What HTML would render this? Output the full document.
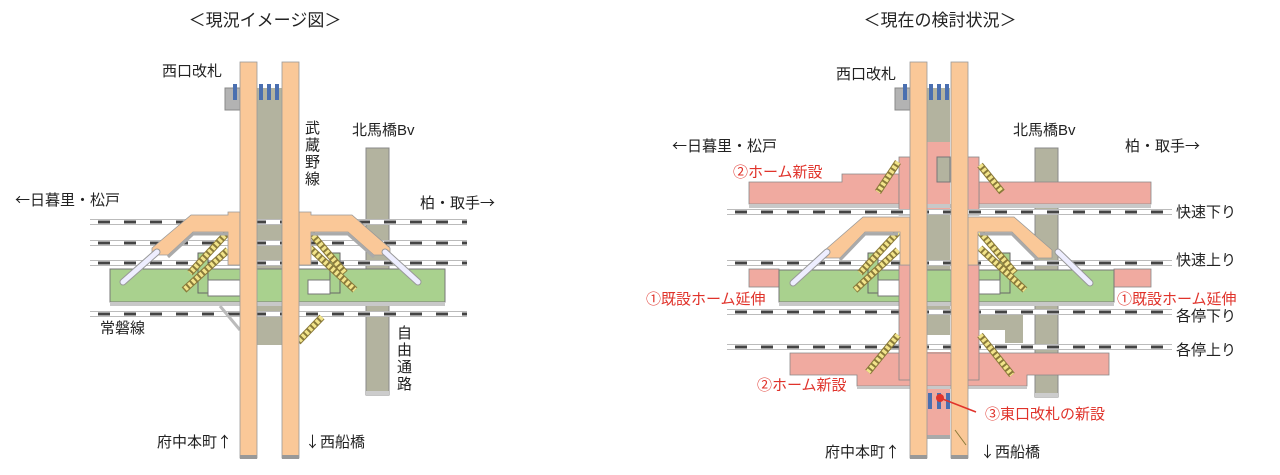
<!DOCTYPE html>
<html><head><meta charset="utf-8"><style>
html,body{margin:0;padding:0;background:#fff;}
svg{display:block;}
text{font-family:"Liberation Sans","Noto Sans CJK JP",sans-serif;fill:#222;}
.r{fill:#e0332b;}
.a{font-family:"Noto Sans CJK JP",sans-serif;}
</style></head><body>
<svg width="1280" height="475" viewBox="0 0 1280 475" xmlns="http://www.w3.org/2000/svg">

<!-- ===== LEFT DIAGRAM ===== -->
<text x="265" y="26" font-size="17" text-anchor="middle">＜現況イメージ図＞</text>
<text x="162" y="76" font-size="15">西口改札</text>
<text x="352" y="135" font-size="15">北馬橋Bv</text>
<text x="15" y="205" font-size="15"><tspan class="a">←</tspan>日暮里・松戸</text>
<text x="420" y="208" font-size="15">柏・取手<tspan class="a">→</tspan></text>
<text x="100" y="333" font-size="15">常磐線</text>
<text x="157" y="447" font-size="15">府中本町<tspan class="a">↑</tspan></text>
<text x="305" y="447" font-size="15"><tspan class="a">↓</tspan>西船橋</text>
<g font-size="15">
<text x="305" y="133">武</text><text x="305" y="150">蔵</text><text x="305" y="167">野</text><text x="305" y="184">線</text>
<text x="397" y="338">自</text><text x="397" y="355">由</text><text x="397" y="372">通</text><text x="397" y="389">路</text>
</g>

<rect x="366" y="148" width="23" height="247" fill="#b3b39f" stroke="#888" stroke-width="1"/>
<rect x="366" y="391" width="23" height="4" fill="#ccc"/>
<rect x="257" y="88" width="25" height="257" fill="#b3b39f"/>
<rect x="225" y="88" width="15" height="22" fill="#b3b3b3" stroke="#888"/>
<g fill="#4a6fb0"><rect x="233" y="84" width="4" height="16"/><rect x="259" y="84" width="4" height="16"/><rect x="267" y="84" width="4" height="16"/><rect x="275" y="84" width="4" height="16"/></g>

<g stroke="#bbb" stroke-width="6"><line x1="90" y1="222" x2="467" y2="222"/><line x1="90" y1="243" x2="467" y2="243"/><line x1="90" y1="263" x2="467" y2="263"/><line x1="90" y1="314" x2="467" y2="314"/></g>
<g stroke="#fff" stroke-width="4"><line x1="90" y1="222" x2="467" y2="222"/><line x1="90" y1="243" x2="467" y2="243"/><line x1="90" y1="263" x2="467" y2="263"/><line x1="90" y1="314" x2="467" y2="314"/></g>
<g stroke="#444" stroke-width="3" stroke-dasharray="12 14"><line x1="98" y1="222" x2="467" y2="222"/><line x1="98" y1="243" x2="467" y2="243"/><line x1="98" y1="263" x2="467" y2="263"/><line x1="98" y1="314" x2="467" y2="314"/></g>

<rect x="110" y="269" width="335" height="33" fill="#a9d18e" stroke="#777"/>
<rect x="110" y="302" width="335" height="4" fill="#c8c8c8"/>
<rect x="198" y="253" width="10" height="40" fill="#a9d18e" stroke="#666"/>
<rect x="330" y="253" width="10" height="40" fill="#a9d18e" stroke="#666"/>
<rect x="208" y="280" width="32" height="16" fill="#fff" stroke="#777"/>
<rect x="308" y="280" width="22" height="14" fill="#fff" stroke="#777"/>
<g stroke="#8a7a3a" stroke-width="7">
<line x1="228" y1="232" x2="190" y2="273"/><line x1="228" y1="250" x2="184" y2="290"/>
<line x1="310" y1="232" x2="345" y2="273"/><line x1="310" y1="248" x2="355" y2="290"/>
<line x1="322" y1="317" x2="298" y2="342"/>
</g>
<g stroke="#f2e48a" stroke-width="5" stroke-dasharray="3 2">
<line x1="228" y1="232" x2="190" y2="273"/><line x1="228" y1="250" x2="184" y2="290"/>
<line x1="310" y1="232" x2="345" y2="273"/><line x1="310" y1="248" x2="355" y2="290"/>
<line x1="322" y1="317" x2="298" y2="342"/>
</g>
<line x1="220" y1="306" x2="240" y2="330" stroke="#bbb" stroke-width="3"/>
<polygon points="240,212 228,212 228,215 191,215 152,248 152,255 168,255 193,232 228,232 228,265 240,265" fill="#fac898" stroke="#999" stroke-width="0.8"/>
<polygon points="299,212 311,212 311,215 352,215 390,248 390,255 374,255 348,232 311,232 311,265 299,265" fill="#fac898" stroke="#999" stroke-width="0.8"/>
<polyline points="168,257 193,234 228,234" fill="none" stroke="#aaa" stroke-width="3"/>
<polyline points="374,257 348,234 311,234" fill="none" stroke="#aaa" stroke-width="3"/>
<line x1="157" y1="252" x2="123" y2="282" stroke="#999" stroke-width="7" stroke-linecap="round"/>
<line x1="157" y1="252" x2="123" y2="282" stroke="#eef" stroke-width="5" stroke-linecap="round"/>
<line x1="385" y1="252" x2="418" y2="282" stroke="#999" stroke-width="7" stroke-linecap="round"/>
<line x1="385" y1="252" x2="418" y2="282" stroke="#eef" stroke-width="5" stroke-linecap="round"/>
<rect x="240" y="62" width="17" height="396" fill="#fac898" stroke="#999" stroke-width="0.8"/>
<rect x="282" y="62" width="17" height="396" fill="#fac898" stroke="#999" stroke-width="0.8"/>
<rect x="240" y="455" width="17" height="4" fill="#999"/><rect x="282" y="455" width="17" height="4" fill="#999"/>

<!-- ===== RIGHT DIAGRAM ===== -->
<text x="940" y="26" font-size="17" text-anchor="middle">＜現在の検討状況＞</text>
<text x="836" y="79" font-size="15">西口改札</text>
<text x="1013" y="135" font-size="15">北馬橋Bv</text>
<text x="672" y="151" font-size="15"><tspan class="a">←</tspan>日暮里・松戸</text>
<text x="1125" y="151" font-size="15">柏・取手<tspan class="a">→</tspan></text>
<text x="1176" y="217" font-size="15">快速下り</text>
<text x="1176" y="265" font-size="15">快速上り</text>
<text x="1176" y="321" font-size="15">各停下り</text>
<text x="1176" y="355" font-size="15">各停上り</text>
<text x="825" y="457" font-size="15">府中本町<tspan class="a">↑</tspan></text>
<text x="980" y="457" font-size="15"><tspan class="a">↓</tspan>西船橋</text>
<text class="r" x="733" y="177" font-size="15">②ホーム新設</text>
<text class="r" x="646" y="304" font-size="15">①既設ホーム延伸</text>
<text class="r" x="1117" y="304" font-size="15">①既設ホーム延伸</text>
<text class="r" x="757" y="390" font-size="15">②ホーム新設</text>
<text class="r" x="985" y="419" font-size="15">③東口改札の新設</text>

<rect x="1035" y="148" width="23" height="249" fill="#b3b39f" stroke="#888"/>
<rect x="1035" y="393" width="23" height="4" fill="#ccc"/>
<rect x="927" y="88" width="23" height="247" fill="#b3b39f"/>
<polygon points="979,312 1023,312 1023,343 1005,343 1005,330 979,330" fill="#b3b39f"/>
<rect x="895" y="88" width="15" height="22" fill="#b3b3b3" stroke="#888"/>
<g fill="#4a6fb0"><rect x="903" y="84" width="4" height="16"/><rect x="929" y="84" width="4" height="16"/><rect x="937" y="84" width="4" height="16"/><rect x="945" y="84" width="4" height="16"/></g>
<rect x="927" y="142" width="23" height="73" fill="#f0aaa0"/>
<rect x="937" y="157" width="13" height="25" fill="#b3b39f" stroke="#777"/>
<polygon points="749,182 842,182 842,174 899,174 899,204 749,204" fill="#f0aaa0" stroke="#888" stroke-width="0.8"/>
<polygon points="979,182 1151,182 1151,204 979,204" fill="#f0aaa0" stroke="#888" stroke-width="0.8"/>
<rect x="749" y="204" width="402" height="4" fill="#c8c8c8"/>
<rect x="899" y="157" width="11" height="58" fill="#f0aaa0" stroke="#888" stroke-width="0.8"/>
<rect x="967" y="157" width="12" height="58" fill="#f0aaa0" stroke="#888" stroke-width="0.8"/>
<g stroke="#bbb" stroke-width="6"><line x1="727" y1="212" x2="1172" y2="212"/><line x1="727" y1="263" x2="1172" y2="263"/><line x1="727" y1="312" x2="1172" y2="312"/><line x1="727" y1="347" x2="1172" y2="347"/></g>
<g stroke="#fff" stroke-width="4"><line x1="727" y1="212" x2="1172" y2="212"/><line x1="727" y1="263" x2="1172" y2="263"/><line x1="727" y1="312" x2="1172" y2="312"/><line x1="727" y1="347" x2="1172" y2="347"/></g>
<g stroke="#444" stroke-width="3" stroke-dasharray="12 14"><line x1="735" y1="212" x2="1165" y2="212"/><line x1="735" y1="263" x2="1165" y2="263"/><line x1="735" y1="312" x2="1165" y2="312"/><line x1="735" y1="347" x2="1165" y2="347"/></g>
<rect x="749" y="269" width="30" height="18" fill="#f0aaa0" stroke="#888" stroke-width="0.8"/>
<rect x="1114" y="269" width="37" height="18" fill="#f0aaa0" stroke="#888" stroke-width="0.8"/>
<rect x="779" y="270" width="335" height="32" fill="#a9d18e" stroke="#777"/>
<rect x="779" y="302" width="335" height="4" fill="#c8c8c8"/>
<rect x="868" y="253" width="10" height="40" fill="#a9d18e" stroke="#666"/>
<rect x="1000" y="253" width="10" height="40" fill="#a9d18e" stroke="#666"/>
<rect x="878" y="280" width="22" height="16" fill="#fff" stroke="#777"/>
<rect x="979" y="280" width="21" height="14" fill="#fff" stroke="#777"/>
<rect x="927" y="352" width="23" height="86" fill="#f0aaa0"/>
<rect x="927" y="435" width="23" height="4" fill="#aaa"/>
<polygon points="790,353 1109,353 1109,375 1027,375 1027,386 857,386 857,375 790,375" fill="#f0aaa0" stroke="#888" stroke-width="0.8"/>
<rect x="857" y="386" width="170" height="3" fill="#c8c8c8"/>
<rect x="899" y="265" width="11" height="115" fill="#f0aaa0" stroke="#888" stroke-width="0.8"/>
<rect x="967" y="265" width="12" height="115" fill="#f0aaa0" stroke="#888" stroke-width="0.8"/>
<g stroke="#8a7a3a" stroke-width="7">
<line x1="898" y1="162" x2="878" y2="192"/><line x1="980" y1="165" x2="1002" y2="192"/>
<line x1="898" y1="232" x2="860" y2="273"/><line x1="898" y1="250" x2="855" y2="290"/>
<line x1="980" y1="232" x2="1015" y2="273"/><line x1="980" y1="248" x2="1025" y2="290"/>
<line x1="898" y1="335" x2="868" y2="372"/><line x1="980" y1="335" x2="1012" y2="375"/>
</g>
<g stroke="#f2e48a" stroke-width="5" stroke-dasharray="3 2">
<line x1="898" y1="162" x2="878" y2="192"/><line x1="980" y1="165" x2="1002" y2="192"/>
<line x1="898" y1="232" x2="860" y2="273"/><line x1="898" y1="250" x2="855" y2="290"/>
<line x1="980" y1="232" x2="1015" y2="273"/><line x1="980" y1="248" x2="1025" y2="290"/>
<line x1="898" y1="335" x2="868" y2="372"/><line x1="980" y1="335" x2="1012" y2="375"/>
</g>
<polygon points="910,217 900,217 863,217 825,250 825,258 840,258 865,232 900,232 900,265 910,265" fill="#fac898" stroke="#999" stroke-width="0.8"/>
<polygon points="967,217 978,217 1014,217 1052,250 1052,258 1038,258 1012,232 978,232 978,265 967,265" fill="#fac898" stroke="#999" stroke-width="0.8"/>
<polyline points="840,260 865,234 898,234" fill="none" stroke="#aaa" stroke-width="3"/>
<polyline points="1038,260 1012,234 980,234" fill="none" stroke="#aaa" stroke-width="3"/>
<line x1="827" y1="252" x2="793" y2="283" stroke="#999" stroke-width="7" stroke-linecap="round"/>
<line x1="827" y1="252" x2="793" y2="283" stroke="#eef" stroke-width="5" stroke-linecap="round"/>
<line x1="1058" y1="252" x2="1090" y2="283" stroke="#999" stroke-width="7" stroke-linecap="round"/>
<line x1="1058" y1="252" x2="1090" y2="283" stroke="#eef" stroke-width="5" stroke-linecap="round"/>
<rect x="910" y="62" width="17" height="396" fill="#fac898" stroke="#999" stroke-width="0.8"/>
<rect x="951" y="62" width="17" height="396" fill="#fac898" stroke="#999" stroke-width="0.8"/>
<rect x="910" y="455" width="17" height="4" fill="#999"/><rect x="951" y="455" width="17" height="4" fill="#999"/>
<g stroke="#8a7a3a" stroke-width="1" fill="none"><line x1="955" y1="430" x2="966" y2="445"/></g>
<g fill="#4a6fb0"><rect x="928" y="393" width="4" height="16"/><rect x="937" y="393" width="4" height="16"/><rect x="946" y="393" width="4" height="16"/></g>
<line x1="940" y1="398" x2="976" y2="412" stroke="#e0332b" stroke-width="1.5"/>
<circle cx="940" cy="398" r="4" fill="#e0332b"/>
</svg>
</body></html>
